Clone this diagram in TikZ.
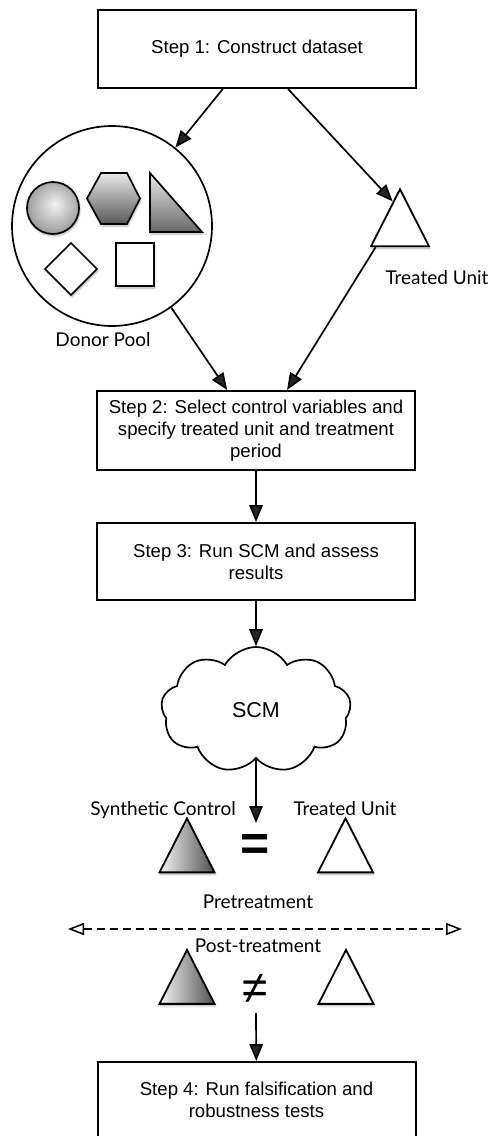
\documentclass[tikz,border=0pt]{standalone}
\usepackage{fontspec}
\setmainfont{Liberation Sans}
\newfontfamily\labelfont{Lato}
\usetikzlibrary{shapes.geometric,shapes.symbols,arrows.meta,calc,shadows.blur}

\definecolor{sphhi}{gray}{0.95}
\definecolor{sphlo}{gray}{0.36}
\pgfdeclareradialshading{sphere}{\pgfpoint{2bp}{4bp}}{%
  color(0bp)=(sphhi); color(46bp)=(sphlo); color(50bp)=(sphlo)}

\begin{document}
\begin{tikzpicture}[x=1pt,y=-1pt,
  stepbox/.style={draw,line width=2pt,minimum width=318pt,align=center,
    inner sep=2pt,font=\fontsize{18.6}{22}\selectfont},
  arr/.style={line width=1.7pt,-{Triangle[length=17pt,width=13.5pt]}},
  lbl/.style={font=\labelfont\fontsize{19}{22}\selectfont,anchor=base,inner sep=0pt},
  soft/.style={blur shadow={shadow xshift=0.8pt,shadow yshift=-2pt,
    shadow blur radius=2pt,shadow blur steps=6,shadow opacity=30}},
  tri/.style={isosceles triangle,isosceles triangle stretches,
    shape border rotate=90,draw,line width=1.8pt,inner sep=0pt,
    minimum width=55pt,minimum height=54pt,soft},
  grad/.style={left color=gray!8,right color=gray!62!black},
  piece/.style={draw,line width=1.7pt,line join=miter,soft},
]
\useasboundingbox (0,0) rectangle (491,1136);

% ---- step 1 and the two groups it produces ----
\node[stepbox,minimum height=78pt] (s1) at (257,49) {Step 1: Construct dataset};

\node[draw,circle,line width=1.7pt,minimum size=200pt,inner sep=0pt] (pool) at (112,226) {};
% units in the donor pool
\draw[piece,shading=sphere] (53,208) circle[radius=26pt];
\draw[piece,top color=gray!18,bottom color=gray!70!black]
  (87,198.5) -- (101,173) -- (127,173) -- (140,198.5) -- (127,224) -- (101,224) -- cycle;
\draw[piece,top color=gray!15,bottom color=gray!80!black]
  (150,173) -- (150,232) -- (202,232) -- cycle;
\draw[piece,fill=white] (71,243) -- (97,269) -- (71,295) -- (45,269) -- cycle;
\draw[piece,fill=white] (116,243) rectangle (154,286);
\node[lbl] (poollbl) at (103,346.5) {Donor Pool};

\node[tri,fill=white,minimum width=58pt,minimum height=57pt] (tu) at (400,228.5) {};
\node[lbl] (tulbl) at (437,284) {Treated Unit};

\draw[arr] ($(s1.south west)!0.393!(s1.south east)$) -- (pool);
\draw[arr] ($(s1.south west)!0.597!(s1.south east)$) -- ($(tu.apex)!0.24!(tu.left corner)$);

% ---- step 2 and step 3 ----
\node[stepbox,minimum height=79pt] (s2) at (256,430.5)
  {Step 2: Select control variables and\\specify treated unit and treatment\\period};
\draw[arr] (pool.-54) -- ($(s2.north west)!0.41!(s2.north east)$);
\draw[arr] ($(tu.left corner)!0.1!(tu.right corner)$) -- ($(s2.north west)!0.597!(s2.north east)$);

\node[stepbox,minimum height=77pt] (s3) at (256,561.5) {Step 3: Run SCM and assess\\results};
\draw[arr] (s2) -- (s3);

% ---- synthetic control method ----
\node[cloud,cloud puffs=9,cloud puff arc=120,aspect=1.5,draw,line width=1.7pt,
  minimum width=190pt,minimum height=126pt,inner sep=0pt,
  font=\fontsize{21.5}{24}\selectfont] (scm) at (256,710) {SCM};
\draw[arr] (s3) -- (scm);
\coordinate (eqtip) at (256,823);
\draw[arr] (scm) -- (eqtip);

\node[lbl] (sclbl) at (163,815) {Synthetic Control};
\node[lbl] (tulbl2) at (345,815) {Treated Unit};

% pretreatment comparison
\node[tri,grad] (sc1) at (187,855.5) {};
\node[tri,fill=white] (tu1) at (345.5,855.5) {};
\node[font=\bfseries\fontsize{50}{50}\selectfont,inner sep=0pt] (eq) at (255,847) {=};
\node[lbl] (pre) at (258,908) {Pretreatment};

% treatment period divider
\coordinate (dl) at (68,929);
\coordinate (dr) at (462,929);
\draw[line width=1.5pt,dash pattern=on 8pt off 5pt,
  {Triangle[open,length=16pt,width=12pt]}-{Triangle[open,length=16pt,width=12pt]}] (dl) -- (dr);
\node[lbl] (post) at (258,952) {Post-treatment};

% post-treatment comparison
\node[tri,grad] (sc2) at (187,987) {};
\node[tri,fill=white] (tu2) at (346,987) {};
\node[font=\fontsize{46}{46}\selectfont,inner sep=0pt] (ne) at (255,989) {≠};

% ---- step 4 ----
\node[stepbox,minimum height=76pt] (s4) at (256.5,1100)
  {Step 4: Run falsification and\\robustness tests};
\coordinate (nefoot) at (256,1013);
\draw[arr] (nefoot) -- (s4);
\end{tikzpicture}
\end{document}
